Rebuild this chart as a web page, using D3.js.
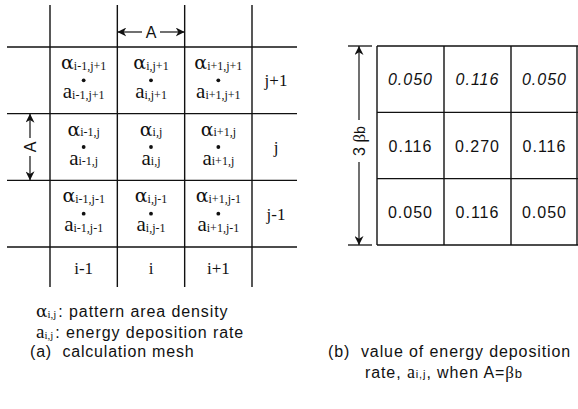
<!DOCTYPE html>
<html><head><meta charset="utf-8">
<script src="https://cdn.jsdelivr.net/npm/d3@7"></script>
<style>
html,body{margin:0;padding:0;background:#fff;}
svg{display:block;}
.serif{font-family:"Liberation Serif","Times New Roman",serif;}
.greek{font-family:"DejaVu Serif","Liberation Serif",serif;}
.sans{font-family:"Liberation Sans",Arial,Helvetica,sans-serif;}
</style></head>
<body>
<script>
// ---- data ----
const colLabels = ["i-1", "i", "i+1"];
const rowLabels = ["j+1", "j", "j-1"];
const depositionValues = [
  [0.050, 0.116, 0.050],
  [0.116, 0.270, 0.116],
  [0.050, 0.116, 0.050]
];
const legendLines = [
  {sym: "α", sub: "i,j", text: ": pattern area density"},
  {sym: "a", sub: "i,j", text: ": energy deposition rate"}
];
const captionA = "(a)  calculation mesh";
const captionB1 = "(b)  value of energy deposition";

const W = 578, H = 409;
const svg = d3.select("body").append("svg").attr("width", W).attr("height", H);

const defs = svg.append("defs");
defs.append("marker").attr("id","ah").attr("viewBox","0 0 10 10")
  .attr("refX",10).attr("refY",5).attr("markerWidth",9).attr("markerHeight",9)
  .attr("markerUnits","userSpaceOnUse").attr("orient","auto-start-reverse")
  .append("path").attr("d","M0,0 L10,5 L0,10 L3,5 Z").attr("fill","#111");

const ink = "#111";
const lw = 1.4;

// ===== (a) calculation mesh =====
const xa = d3.scaleBand().domain(colLabels).range([50, 252]);
const ya = d3.scaleBand().domain(rowLabels).range([47, 247]);
const ga = svg.append("g");

const vx = colLabels.map(c => xa(c)).concat([xa.range()[1]]);
ga.selectAll("line.v").data(vx).join("line")
  .attr("x1", d => d).attr("x2", d => d).attr("y1", 5).attr("y2", 287)
  .attr("stroke", ink).attr("stroke-width", lw);
const hy = rowLabels.map(r => ya(r)).concat([ya.range()[1]]);
ga.selectAll("line.h").data(hy).join("line")
  .attr("x1", 7).attr("x2", 297).attr("y1", d => d).attr("y2", d => d)
  .attr("stroke", ink).attr("stroke-width", lw);

const cells = [];
rowLabels.forEach(r => colLabels.forEach(c => {
  cells.push({r, c, sub: c + "," + r});
}));
const cg = ga.selectAll("g.cell").data(cells).join("g")
  .attr("transform", d => `translate(${xa(d.c) + xa.bandwidth()/2},${ya(d.r)})`);
function symText(sel, sym, cls, y, symSize) {
  const t = sel.append("text").attr("y", y)
    .attr("text-anchor","middle").attr("fill", ink);
  t.append("tspan").attr("class", cls).attr("font-size", symSize).text(sym);
  t.append("tspan").attr("class","serif").attr("font-size", 12).attr("dy", 0.5).text(d => d.sub);
}
symText(cg, "α", "greek", 22, 19);
symText(cg, "a", "serif", 51, 21);
cg.append("circle").attr("cx", 0).attr("cy", ya.bandwidth()/2).attr("r", 1.9).attr("fill", ink);

ga.selectAll("text.cl").data(colLabels).join("text")
  .attr("class","serif").attr("x", d => xa(d) + xa.bandwidth()/2).attr("y", 274)
  .attr("text-anchor","middle").attr("font-size", 17).attr("fill", ink).text(d => d);
ga.selectAll("text.rl").data(rowLabels).join("text")
  .attr("class","serif").attr("x", 276).attr("y", d => ya(d) + ya.bandwidth()/2 + 6)
  .attr("text-anchor","middle").attr("font-size", 17).attr("fill", ink).text(d => d);

// dimension A horizontal
const ax0 = xa("i"), ax1 = xa("i") + xa.bandwidth(), ay = 32, axm = (ax0 + ax1)/2;
ga.append("line").attr("x1", axm - 9).attr("x2", ax0).attr("y1", ay).attr("y2", ay)
  .attr("stroke", ink).attr("stroke-width", 1.2).attr("marker-end","url(#ah)");
ga.append("line").attr("x1", axm + 9).attr("x2", ax1).attr("y1", ay).attr("y2", ay)
  .attr("stroke", ink).attr("stroke-width", 1.2).attr("marker-end","url(#ah)");
ga.append("text").attr("class","sans").attr("x", axm).attr("y", ay + 6)
  .attr("text-anchor","middle").attr("font-size", 16).attr("fill", ink).text("A");
// dimension A vertical
const vy0 = ya("j"), vy1 = ya("j") + ya.bandwidth(), vxm = 30, vym = (vy0 + vy1)/2;
ga.append("line").attr("x1", vxm).attr("x2", vxm).attr("y1", vym - 9).attr("y2", vy0)
  .attr("stroke", ink).attr("stroke-width", 1.2).attr("marker-end","url(#ah)");
ga.append("line").attr("x1", vxm).attr("x2", vxm).attr("y1", vym + 9).attr("y2", vy1)
  .attr("stroke", ink).attr("stroke-width", 1.2).attr("marker-end","url(#ah)");
ga.append("text").attr("class","sans").attr("transform", `translate(${vxm + 6},${vym}) rotate(-90)`)
  .attr("text-anchor","middle").attr("font-size", 16).attr("fill", ink).text("A");

// legend
const lg = svg.append("g");
legendLines.forEach((L, i) => {
  const t = lg.append("text").attr("x", 36).attr("y", 317 + i * 21).attr("fill", ink);
  t.append("tspan").attr("class", i === 0 ? "greek" : "serif").attr("font-size", i === 0 ? 17 : 19).text(L.sym);
  t.append("tspan").attr("class","serif").attr("font-size", 11).attr("dy", 0.5).text(L.sub);
  t.append("tspan").attr("class","sans").attr("font-size", 16).attr("dy", -0.5).attr("dx", 2)
    .attr("letter-spacing", 0.9).text(L.text);
});
lg.append("text").attr("class","sans").attr("x", 30).attr("y", 357).attr("font-size", 16)
  .attr("letter-spacing", 0.8).attr("fill", ink).style("white-space","pre").text(captionA);

// ===== (b) values =====
const xb = d3.scaleBand().domain([0,1,2]).range([377, 578]);
const yb = d3.scaleBand().domain([0,1,2]).range([46, 245]);
const gb = svg.append("g");
const bvx = [0,1,2].map(i => xb(i)).concat([xb.range()[1] - 1]);
gb.selectAll("line.v").data(bvx).join("line")
  .attr("x1", d => d).attr("x2", d => d).attr("y1", yb.range()[0]).attr("y2", yb.range()[1])
  .attr("stroke", ink).attr("stroke-width", lw);
const bhy = [0,1,2].map(i => yb(i)).concat([yb.range()[1]]);
gb.selectAll("line.h").data(bhy).join("line")
  .attr("x1", xb.range()[0]).attr("x2", xb.range()[1]).attr("y1", d => d).attr("y2", d => d)
  .attr("stroke", ink).attr("stroke-width", lw);
const vals = [];
depositionValues.forEach((row, r) => row.forEach((v, c) => vals.push({r, c, v})));
gb.selectAll("text.val").data(vals).join("text")
  .attr("class","sans").attr("x", d => xb(d.c) + xb.bandwidth()/2)
  .attr("y", d => yb(d.r) + yb.bandwidth()/2 + 6)
  .attr("text-anchor","middle").attr("font-size", 16).attr("letter-spacing", 1)
  .attr("font-style", d => d.r === 0 ? "italic" : "normal")
  .attr("fill", ink).text(d => d3.format(".3f")(d.v));

// dimension 3βb
const bx = 359, by0 = yb.range()[0], by1 = yb.range()[1], bym = 141;
gb.selectAll("line.tk").data([by0, by1]).join("line")
  .attr("x1", 348).attr("x2", 372).attr("y1", d => d).attr("y2", d => d)
  .attr("stroke", ink).attr("stroke-width", 1.3);
gb.append("line").attr("x1", bx).attr("x2", bx).attr("y1", bym - 21).attr("y2", by0)
  .attr("stroke", ink).attr("stroke-width", 1.2).attr("marker-end","url(#ah)");
gb.append("line").attr("x1", bx).attr("x2", bx).attr("y1", bym + 21).attr("y2", by1)
  .attr("stroke", ink).attr("stroke-width", 1.2).attr("marker-end","url(#ah)");
const bt = gb.append("text").attr("transform", `translate(${bx + 6},${bym}) rotate(-90)`)
  .attr("text-anchor","middle").attr("fill", ink);
bt.append("tspan").attr("class","sans").attr("font-size", 16).text("3 ");
bt.append("tspan").attr("class","serif").attr("font-size", 17).text("β");
bt.append("tspan").attr("class","sans").attr("font-size", 14).text("b");

// caption (b)
svg.append("text").attr("class","sans").attr("x", 328).attr("y", 357).attr("font-size", 16)
  .attr("letter-spacing", 0.9).attr("fill", ink).style("white-space","pre").text(captionB1);
const c2 = svg.append("text").attr("class","sans").attr("x", 365).attr("y", 378)
  .attr("font-size", 16).attr("letter-spacing", 0.9).attr("fill", ink);
c2.append("tspan").text("rate, ");
c2.append("tspan").attr("class","serif").attr("font-size", 18).text("a");
c2.append("tspan").attr("font-size", 11).text("i,j");
c2.append("tspan").text(", when A=");
c2.append("tspan").attr("class","serif").attr("font-size", 17).text("β");
c2.append("tspan").attr("font-size", 13).text("b");
</script>
</body></html>
